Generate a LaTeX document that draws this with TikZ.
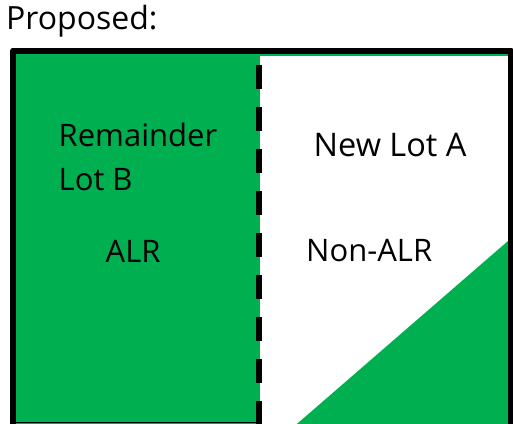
\documentclass[tikz,border=0pt]{standalone}
\usepackage{fontspec}
\setmainfont{Open Sans}
\definecolor{lotgreen}{HTML}{00B050}
\begin{document}
\begin{tikzpicture}[x=1pt,y=-1pt,
  lbl/.style={anchor=base west,inner sep=0pt,font=\fontsize{31}{37}\selectfont},
  frame/.style={draw=black,line width=6pt,line join=round},
  divider/.style={draw=black,line width=6pt,dash pattern=on 23.5pt off 18.5pt,dash phase=30pt}]
\useasboundingbox (0,0) rectangle (513,423);
\clip (0,0) rectangle (513,423);
% green remainder lot
\fill[lotgreen] (16,53) rectangle (260,430);
\fill[lotgreen] (16,52.5) rectangle (508,55.5);
% green triangle in lot A
\fill[lotgreen] (298,423) -- (508,241) -- (508,430) -- (289,430) -- cycle;
% outer frame (bottom edge falls outside the page)
\draw[frame] (13,50.5) rectangle (511,430);
\draw[black,line width=1.5pt] (10,422.5) -- (262,422.5);
% dashed division line
\coordinate (dtop) at (259,53);
\coordinate (dbot) at (259,430);
\draw[divider] (dtop) -- (dbot);
% texts
\node[lbl,font=\fontsize{32}{38}\selectfont] (prop) at (6,29) {Proposed:};
\node[lbl] (rem) at (58.5,146) {Remainder};
\node[lbl] (lotb) at (58.5,190) {Lot B};
\node[lbl] (alr) at (105.5,262) {ALR};
\node[lbl,font=\fontsize{32.5}{38}\selectfont] (newa) at (313.5,156) {New Lot A};
\node[lbl] (nonalr) at (306,261) {Non-ALR};
\end{tikzpicture}
\end{document}
